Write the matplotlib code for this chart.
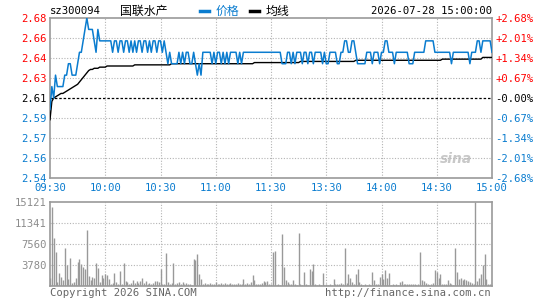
import matplotlib
matplotlib.use('Agg')
import numpy as np
import matplotlib.pyplot as plt

# ---- data (one value per minute) ----
price_am = [
    2.60, 2.62, 2.61, 2.63, 2.62, 2.62, 2.62, 2.62, 2.63, 2.63,
    2.64, 2.64, 2.63, 2.63, 2.63, 2.64, 2.65, 2.65, 2.66, 2.67,
    2.68, 2.67, 2.67, 2.67, 2.66, 2.65, 2.67, 2.66, 2.66, 2.66,
    2.66, 2.66, 2.66, 2.66, 2.65, 2.66, 2.66, 2.65, 2.66, 2.66,
    2.65, 2.66, 2.66, 2.65, 2.66, 2.65, 2.66, 2.65, 2.66, 2.66,
    2.65, 2.66, 2.66, 2.65, 2.66, 2.65, 2.66, 2.66, 2.65, 2.66,
    2.66, 2.65, 2.66, 2.65, 2.64, 2.65, 2.64, 2.64, 2.64, 2.64,
    2.65, 2.64, 2.65, 2.64, 2.65, 2.65, 2.64, 2.64, 2.65, 2.64,
    2.63, 2.64, 2.63, 2.65, 2.65, 2.65, 2.65, 2.65, 2.64, 2.65,
    2.64, 2.65, 2.65, 2.64, 2.65, 2.64, 2.65, 2.64, 2.65, 2.65,
    2.65, 2.65, 2.64, 2.65, 2.64, 2.65, 2.65, 2.65, 2.65, 2.65,
    2.65, 2.65, 2.65, 2.65, 2.65, 2.65, 2.65, 2.65, 2.65, 2.65,
    2.65,
]
price_pm = [
    2.65, 2.65, 2.65, 2.65, 2.65, 2.64, 2.64, 2.64, 2.65, 2.65,
    2.64, 2.65, 2.64, 2.65, 2.65, 2.65, 2.64, 2.65, 2.65, 2.64,
    2.65, 2.65, 2.64, 2.65, 2.65, 2.65, 2.65, 2.64, 2.65, 2.64,
    2.64, 2.65, 2.65, 2.65, 2.65, 2.64, 2.64, 2.65, 2.65, 2.66,
    2.66, 2.65, 2.65, 2.66, 2.66, 2.65, 2.64, 2.64, 2.64, 2.64,
    2.64, 2.65, 2.65, 2.65, 2.64, 2.65, 2.65, 2.65, 2.64, 2.65,
    2.65, 2.66, 2.66, 2.65, 2.65, 2.65, 2.64, 2.65, 2.65, 2.65,
    2.65, 2.65, 2.65, 2.65, 2.64, 2.64, 2.64, 2.65, 2.65, 2.65,
    2.65, 2.65, 2.65, 2.66, 2.66, 2.66, 2.66, 2.66, 2.65, 2.65,
    2.65, 2.65, 2.65, 2.65, 2.65, 2.65, 2.65, 2.64, 2.65, 2.65,
    2.65, 2.65, 2.65, 2.65, 2.65, 2.65, 2.65, 2.64, 2.65, 2.65,
    2.65, 2.66, 2.66, 2.65, 2.66, 2.66, 2.66, 2.66, 2.66, 2.65,
]

avg_am = [
    2.591, 2.607, 2.610, 2.611, 2.612, 2.613, 2.614, 2.614, 2.615, 2.616,
    2.617, 2.618, 2.619, 2.620, 2.621, 2.622, 2.624, 2.626, 2.628, 2.630,
    2.632, 2.634, 2.635, 2.635, 2.636, 2.636, 2.636, 2.637, 2.637, 2.637,
    2.637, 2.638, 2.638, 2.638, 2.638, 2.638, 2.638, 2.638, 2.638, 2.638,
    2.638, 2.638, 2.638, 2.638, 2.638, 2.638, 2.639, 2.639, 2.639, 2.639,
    2.639, 2.639, 2.639, 2.639, 2.639, 2.639, 2.639, 2.639, 2.639, 2.639,
    2.639, 2.639, 2.639, 2.639, 2.639, 2.639, 2.640, 2.640, 2.640, 2.640,
    2.640, 2.640, 2.640, 2.640, 2.640, 2.640, 2.640, 2.640, 2.640, 2.640,
    2.640, 2.640, 2.640, 2.640, 2.640, 2.640, 2.640, 2.640, 2.640, 2.640,
    2.640, 2.640, 2.640, 2.640, 2.640, 2.640, 2.640, 2.640, 2.640, 2.640,
    2.640, 2.640, 2.640, 2.640, 2.640, 2.640, 2.640, 2.640, 2.640, 2.640,
    2.640, 2.641, 2.641, 2.641, 2.641, 2.641, 2.641, 2.641, 2.641, 2.641,
    2.641,
]
avg_pm = [
    2.641, 2.641, 2.641, 2.641, 2.641, 2.641, 2.641, 2.641, 2.641, 2.641,
    2.641, 2.641, 2.641, 2.641, 2.641, 2.642, 2.642, 2.642, 2.642, 2.642,
    2.642, 2.642, 2.642, 2.642, 2.642, 2.642, 2.642, 2.642, 2.642, 2.642,
    2.642, 2.642, 2.642, 2.642, 2.642, 2.642, 2.642, 2.642, 2.642, 2.642,
    2.642, 2.642, 2.642, 2.642, 2.642, 2.643, 2.643, 2.643, 2.643, 2.643,
    2.643, 2.643, 2.643, 2.643, 2.643, 2.643, 2.643, 2.643, 2.643, 2.643,
    2.643, 2.643, 2.643, 2.643, 2.643, 2.643, 2.643, 2.643, 2.643, 2.643,
    2.643, 2.643, 2.643, 2.643, 2.643, 2.643, 2.643, 2.643, 2.643, 2.643,
    2.643, 2.643, 2.643, 2.643, 2.643, 2.643, 2.643, 2.643, 2.643, 2.643,
    2.643, 2.643, 2.644, 2.644, 2.644, 2.644, 2.644, 2.644, 2.644, 2.644,
    2.644, 2.644, 2.644, 2.644, 2.644, 2.644, 2.644, 2.644, 2.644, 2.644,
    2.644, 2.644, 2.644, 2.644, 2.6455, 2.6455, 2.6455, 2.6455, 2.6455, 2.6455,
]

vol_am = [
    1400, 14300, 8600, 6100, 800, 2300, 1600, 1100, 6900, 3800,
    1200, 5100, 500, 800, 1400, 4300, 4800, 3900, 3400, 3100,
    10100, 1800, 1100, 1700, 1400, 4100, 3200, 800, 1900, 1400,
    2100, 2000, 1200, 300, 500, 2300, 800, 300, 2700, 300,
    4100, 900, 800, 300, 500, 1100, 500, 900, 500, 900,
    1400, 500, 900, 300, 500, 300, 500, 900, 900, 700,
    3000, 400, 300, 5900, 800, 400, 600, 4200, 300, 500,
    700, 400, 700, 300, 500, 400, 300, 200, 4900, 4600,
    5800, 2200, 1300, 300, 500, 400, 300, 600, 400, 300,
    700, 300, 400, 500, 300, 600, 400, 300, 500, 300,
    400, 300, 500, 300, 400, 1200, 300, 500, 300, 700,
    1900, 1000, 300, 400, 300, 500, 900, 700, 900, 300,
    400,
]
vol_pm = [
    6100, 6300, 200, 300, 200, 9300, 3400, 1100, 700, 300,
    300, 1000, 300, 200, 9500, 300, 200, 2500, 300, 200,
    3000, 2700, 3900, 300, 200, 300, 200, 2300, 200, 300,
    200, 300, 200, 1300, 300, 400, 300, 500, 400, 6800,
    500, 2200, 1500, 800, 400, 2100, 3100, 700, 300, 200,
    300, 200, 300, 200, 2600, 1100, 400, 300, 1600, 2200,
    1200, 2800, 1500, 2300, 200, 300, 200, 300, 200, 700,
    900, 300, 400, 300, 400, 300, 400, 300, 200, 300,
    6200, 1000, 900, 500, 300, 200, 300, 500, 2800, 2500,
    1500, 2100, 400, 300, 400, 1000, 500, 300, 200, 6900,
    2500, 1300, 1500, 1000, 1300, 1000, 900, 700, 500, 400,
    15121, 900, 1500, 2100, 3700, 5700, 1300, 300, 300, 300,
]

price_labels = ['2.54', '2.56', '2.57', '2.59', '2.61', '2.63', '2.64', '2.66', '2.68']
pct_labels = ['-2.68%', '-2.01%', '-1.34%', '-0.67%', '-0.00%',
              '+0.67%', '+1.34%', '+2.01%', '+2.68%']
time_labels = ['09:30', '10:00', '10:30', '11:00', '11:30',
               '13:30', '14:00', '14:30', '15:00']
vol_labels = ['3780', '7560', '11341', '15121']
prev_close = 2.61
code = 'sz300094'
name = '国联水产'
stamp = '2026-07-28 15:00:00'

price = np.array(price_am + price_pm)
avg = np.array(avg_am + avg_pm)
vol = np.array(vol_am + vol_pm)
t = np.arange(len(price))

BLUE = '#0a7ccf'
RED = '#ff0000'
GRAY = '#8c8c8c'
FRAME = '#9a9a9a'
GRID = '#b4b4b4'
MONO = ['DejaVu Sans Mono', 'Noto Sans CJK SC']
plt.rcParams['font.family'] = MONO

W, H = 545, 300
fig = plt.figure(figsize=(W / 100, H / 100), dpi=100)


def box(x0, y0, x1, y1):
    return [x0 / W, 1 - y1 / H, (x1 - x0) / W, (y1 - y0) / H]


# ---- price panel ----
ax = fig.add_axes(box(50, 18, 492, 178))
ax.set_xlim(0, 240)
ax.set_ylim(2.54, 2.68)
yt = np.linspace(2.54, 2.68, len(price_labels))
xt = np.linspace(0, 240, len(time_labels))
for y in yt[1:-1]:
    if abs(y - prev_close) > 1e-6:
        ax.axhline(y, color=GRID, lw=0.8, ls=(0, (1, 1.5)), zorder=1)
for x in xt[1:-1]:
    ax.axvline(x, color=GRID, lw=0.8, ls=(0, (1, 1.5)), zorder=1)
ax.axhline(prev_close, color='black', lw=0.9, ls=(0, (2, 1.5)), zorder=2)

ax.plot(t, price, color=BLUE, lw=1.1, zorder=4)
ax.plot(t, avg, color='black', lw=1.0, zorder=3)

ax.set_yticks(yt)
ax.set_yticklabels(price_labels)
ax.set_xticks(xt)
ax.set_xticklabels(time_labels)
ax.tick_params(length=0, labelsize=7.6, pad=2.2)
ax.tick_params(axis='x', pad=3.5, colors=BLUE)
for lab, y in zip(ax.get_yticklabels(), yt):
    lab.set_color(RED if y > prev_close + 1e-6 else ('black' if abs(y - prev_close) < 1e-6 else BLUE))
for s in ax.spines.values():
    s.set_color(FRAME)
    s.set_linewidth(1.2)

ax2 = ax.twinx()
ax2.set_ylim(2.54, 2.68)
ax2.set_yticks(yt)
ax2.set_yticklabels(pct_labels)
ax2.tick_params(length=0, labelsize=7.6, pad=2.2)
for lab, y in zip(ax2.get_yticklabels(), yt):
    lab.set_color(RED if y > prev_close + 1e-6 else ('black' if abs(y - prev_close) < 1e-6 else BLUE))
for s in ax2.spines.values():
    s.set_visible(False)

# watermark
ax.text(0.955, 0.12, 'sina', transform=ax.transAxes, ha='right', va='center',
        fontsize=10, style='italic', weight='bold', color='#c8c8c8',
        family='DejaVu Sans', zorder=0)

# ---- volume panel ----
axv = fig.add_axes(box(50, 202, 492, 286))
axv.set_xlim(0, 240)
axv.set_ylim(0, 15121)
vt = [3780, 7560, 11341, 15121]
for y in vt[:-1]:
    axv.axhline(y, color=GRID, lw=0.8, ls=(0, (1, 1.5)), zorder=1)
for x in xt[1:-1]:
    axv.axvline(x, color=GRID, lw=0.8, ls=(0, (1, 1.5)), zorder=1)
axv.vlines(t, 0, vol, color='#999999', lw=1.0, zorder=3)
axv.set_yticks(vt)
axv.set_yticklabels(vol_labels)
axv.set_xticks([])
axv.tick_params(length=0, labelsize=7.6, pad=2.2, colors=GRAY)
for s in axv.spines.values():
    s.set_color(FRAME)
    s.set_linewidth(1.2)

# ---- header / footer texts ----
fs = 7.6
fig.text(50 / W, 1 - 11 / H, code, fontsize=fs, va='center', ha='left')
fig.text(120 / W, 1 - 11 / H, name, fontsize=8.6, va='center', ha='left',
         family=['Noto Sans CJK SC', 'DejaVu Sans'])
fig.lines.append(plt.Line2D([200 / W, 209 / W], [1 - 11 / H] * 2, color=BLUE, lw=2.5,
                            transform=fig.transFigure))
fig.text(216 / W, 1 - 11 / H, '价格', fontsize=8.6, va='center', ha='left', color=BLUE,
         family=['Noto Sans CJK SC', 'DejaVu Sans'])
fig.lines.append(plt.Line2D([250 / W, 259 / W], [1 - 11 / H] * 2, color='black', lw=2.5,
                            transform=fig.transFigure))
fig.text(266 / W, 1 - 11 / H, '均线', fontsize=8.6, va='center', ha='left',
         family=['Noto Sans CJK SC', 'DejaVu Sans'])
fig.text(492 / W, 1 - 11 / H, stamp, fontsize=fs, va='center', ha='right')
fig.text(50 / W, 1 - 293 / H, 'Copyright 2026 SINA.COM', fontsize=fs, va='center',
         ha='left', color='#666666')
fig.text(491 / W, 1 - 293 / H, 'http://finance.sina.com.cn', fontsize=fs, va='center',
         ha='right', color='#666666')

fig.savefig('out.png', dpi=100, facecolor='white')
